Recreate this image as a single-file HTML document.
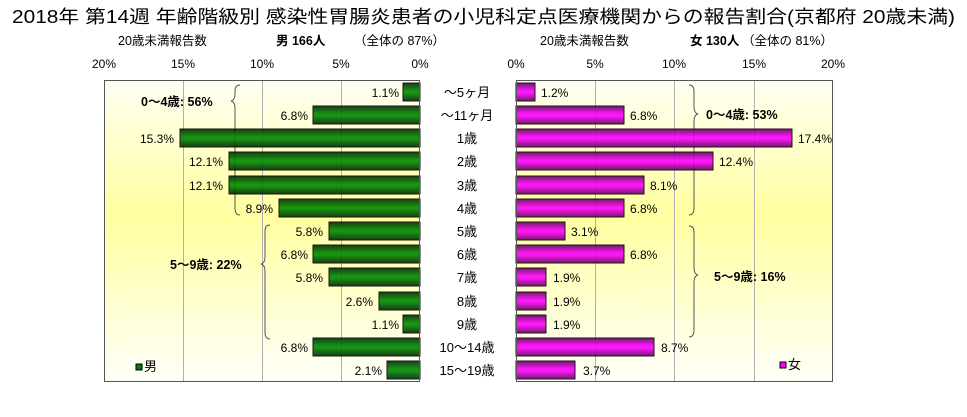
<!DOCTYPE html>
<html><head><meta charset="utf-8"><style>
html,body{margin:0;padding:0;background:#fff;}
svg{display:block;font-family:"Liberation Sans","Noto Sans CJK JP",sans-serif;}
</style></head><body>
<svg width="967" height="417" viewBox="0 0 967 417" xmlns="http://www.w3.org/2000/svg">
<defs>
<linearGradient id="bg" x1="0" y1="0" x2="0" y2="1">
<stop offset="0" stop-color="#fffff4"/>
<stop offset="0.45" stop-color="#ffffa0"/>
<stop offset="1" stop-color="#fffffa"/>
</linearGradient>
<linearGradient id="gr" x1="0" y1="0" x2="0" y2="1">
<stop offset="0" stop-color="#002a00"/>
<stop offset="0.45" stop-color="#008a00"/>
<stop offset="0.55" stop-color="#008a00"/>
<stop offset="1" stop-color="#002a00"/>
</linearGradient>
<linearGradient id="mg" x1="0" y1="0" x2="0" y2="1">
<stop offset="0" stop-color="#660066"/>
<stop offset="0.45" stop-color="#ff00ff"/>
<stop offset="0.55" stop-color="#ff00ff"/>
<stop offset="1" stop-color="#660066"/>
</linearGradient>
</defs>
<text x="12" y="23" font-size="18" textLength="943" lengthAdjust="spacingAndGlyphs" fill="#000">2018年 第14週 年齢階級別 感染性胃腸炎患者の小児科定点医療機関からの報告割合(京都府 20歳未満)</text>
<g font-size="12.5" fill="#000">
<text x="118" y="45">20歳未満報告数</text>
<text x="276" y="45" font-weight="bold">男  166人</text>
<text x="354" y="45">（全体の  87%）</text>
<text x="540" y="45">20歳未満報告数</text>
<text x="690" y="45" font-weight="bold">女  130人</text>
<text x="742" y="45">（全体の  81%）</text>
</g>
<g font-size="12" text-anchor="middle" fill="#000">
<text x="104" y="68">20%</text><text x="183" y="68">15%</text><text x="262" y="68">10%</text><text x="341" y="68">5%</text><text x="420" y="68">0%</text>
<text x="516" y="68">0%</text><text x="595" y="68">5%</text><text x="674" y="68">10%</text><text x="754" y="68">15%</text><text x="833" y="68">20%</text>
</g>
<rect x="104" y="80" width="316" height="302" fill="url(#bg)"/>
<rect x="516" y="80" width="317" height="302" fill="url(#bg)"/>
<g stroke="#b0b0b0" stroke-width="1">
<line x1="183.5" y1="80" x2="183.5" y2="382"/><line x1="262.5" y1="80" x2="262.5" y2="382"/><line x1="341.5" y1="80" x2="341.5" y2="382"/>
<line x1="595.5" y1="80" x2="595.5" y2="382"/><line x1="674.5" y1="80" x2="674.5" y2="382"/><line x1="754.5" y1="80" x2="754.5" y2="382"/>
</g>
<g fill="none" stroke="#555" stroke-width="1">
<path d="M240,85 q-5,0 -5,6 v3 q0,6 -4,7 q4,1 4,7 v100 q0,7 5,7"/>
<path d="M270,225 q-5,0 -5,6 v26 q0,6 -4,7 q4,1 4,7 v61 q0,7 5,7"/>
<path d="M689,85 q5,0 5,6 v16 q0,6 4,7 q-4,1 -4,7 v87 q0,7 -5,7"/>
<path d="M689,226 q5,0 5,6 v36 q0,6 4,7 q-4,1 -4,7 v48 q0,7 -5,7"/>
</g>
<g stroke="#000" stroke-width="1" opacity="0.9">
<rect x="403" y="83" width="17" height="18" fill="url(#gr)"/>
<rect x="313" y="106" width="107" height="18" fill="url(#gr)"/>
<rect x="180" y="129" width="240" height="18" fill="url(#gr)"/>
<rect x="229" y="152" width="191" height="18" fill="url(#gr)"/>
<rect x="229" y="176" width="191" height="18" fill="url(#gr)"/>
<rect x="279" y="199" width="141" height="18" fill="url(#gr)"/>
<rect x="329" y="222" width="91" height="18" fill="url(#gr)"/>
<rect x="313" y="245" width="107" height="18" fill="url(#gr)"/>
<rect x="329" y="268" width="91" height="18" fill="url(#gr)"/>
<rect x="379" y="292" width="41" height="18" fill="url(#gr)"/>
<rect x="403" y="315" width="17" height="18" fill="url(#gr)"/>
<rect x="313" y="338" width="107" height="18" fill="url(#gr)"/>
<rect x="387" y="361" width="33" height="18" fill="url(#gr)"/>
<rect x="516" y="83" width="19" height="18" fill="url(#mg)"/>
<rect x="516" y="106" width="108" height="18" fill="url(#mg)"/>
<rect x="516" y="129" width="276" height="18" fill="url(#mg)"/>
<rect x="516" y="152" width="197" height="18" fill="url(#mg)"/>
<rect x="516" y="176" width="128" height="18" fill="url(#mg)"/>
<rect x="516" y="199" width="108" height="18" fill="url(#mg)"/>
<rect x="516" y="222" width="49" height="18" fill="url(#mg)"/>
<rect x="516" y="245" width="108" height="18" fill="url(#mg)"/>
<rect x="516" y="268" width="30" height="18" fill="url(#mg)"/>
<rect x="516" y="292" width="30" height="18" fill="url(#mg)"/>
<rect x="516" y="315" width="30" height="18" fill="url(#mg)"/>
<rect x="516" y="338" width="138" height="18" fill="url(#mg)"/>
<rect x="516" y="361" width="59" height="18" fill="url(#mg)"/>
</g>
<rect x="104.5" y="80.5" width="315" height="301" fill="none" stroke="#555"/>
<rect x="516.5" y="80.5" width="316" height="301" fill="none" stroke="#555"/>
<g font-size="12" fill="#000" text-anchor="end">
<text x="399" y="97">1.1%</text><text x="308" y="120">6.8%</text><text x="174" y="143">15.3%</text>
<text x="223" y="166">12.1%</text><text x="223" y="190">12.1%</text><text x="273" y="213">8.9%</text>
<text x="323" y="236">5.8%</text><text x="308" y="259">6.8%</text><text x="323" y="282">5.8%</text>
<text x="373" y="306">2.6%</text><text x="399" y="329">1.1%</text><text x="308" y="352">6.8%</text><text x="382" y="375">2.1%</text>
</g>
<g font-size="12" fill="#000">
<text x="541" y="97">1.2%</text><text x="630" y="120">6.8%</text><text x="798" y="143">17.4%</text>
<text x="719" y="166">12.4%</text><text x="650" y="190">8.1%</text><text x="630" y="213">6.8%</text>
<text x="571" y="236">3.1%</text><text x="630" y="259">6.8%</text><text x="553" y="282">1.9%</text>
<text x="553" y="306">1.9%</text><text x="553" y="329">1.9%</text><text x="661" y="352">8.7%</text><text x="583" y="375">3.7%</text>
</g>
<g font-size="13" fill="#000" text-anchor="middle">
<text x="467" y="97">～5ヶ月</text><text x="467" y="120">～11ヶ月</text><text x="467" y="143">1歳</text>
<text x="467" y="166">2歳</text><text x="467" y="190">3歳</text><text x="467" y="213">4歳</text>
<text x="467" y="236">5歳</text><text x="467" y="259">6歳</text><text x="467" y="282">7歳</text>
<text x="467" y="306">8歳</text><text x="467" y="329">9歳</text><text x="467" y="352">10～14歳</text><text x="467" y="375">15～19歳</text>
</g>
<g font-size="12.5" font-weight="bold" fill="#000">
<text x="141" y="106">0～4歳: 56%</text>
<text x="170" y="269">5～9歳: 22%</text>
<text x="706" y="119">0～4歳: 53%</text>
<text x="714" y="281">5～9歳: 16%</text>
</g>
<rect x="136" y="364" width="6" height="6" fill="#008000" stroke="#000"/>
<text x="144" y="371" font-size="13">男</text>
<rect x="780" y="362" width="6" height="6" fill="#ff00ff" stroke="#000"/>
<text x="788" y="369" font-size="13">女</text>
</svg>
</body></html>
